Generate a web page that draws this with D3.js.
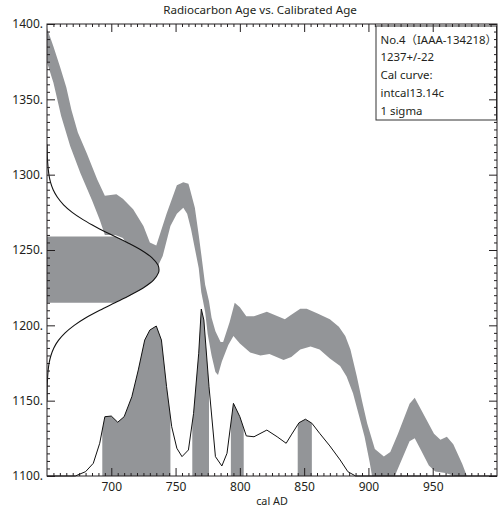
<!DOCTYPE html>
<html>
<head>
<meta charset="utf-8">
<script src="https://cdn.jsdelivr.net/npm/d3@7"></script>
<style>
  body { margin: 0; background: #fff; overflow: hidden; }
  svg { display: block; }
  text { font-family: "Noto Sans", "Noto Sans CJK JP", sans-serif; fill: #231f20; }
</style>
</head>
<body>
<div id="plot"></div>
<script>
// calibration curve band (intcal13), upper and lower edges
const upperYears = [648, 655, 660, 665, 669, 674, 681, 689, 695, 704, 709, 717, 725, 730, 735, 743, 751, 756, 760, 761, 765, 768, 770, 773, 776, 778, 781, 785, 787, 792, 796, 800, 805, 811, 821, 835, 840, 847, 852, 860, 870, 877, 882, 886, 891, 895, 899, 905, 912, 917, 923, 932, 936, 941, 951, 956, 961, 966, 973, 977, 980];
const upperAges  = [1402, 1385, 1372, 1358, 1343, 1328, 1314, 1297, 1286, 1287, 1284, 1277, 1266, 1255, 1253, 1274, 1293, 1295, 1294, 1291, 1278, 1260, 1247, 1227, 1216, 1205, 1196, 1189, 1189, 1202, 1215, 1212, 1206, 1206, 1209, 1204, 1207, 1211, 1211, 1208, 1204, 1199, 1193, 1184, 1166, 1150, 1135, 1118, 1113, 1116, 1128, 1148, 1152, 1144, 1128, 1124, 1126, 1121, 1108, 1099, 1095];
const lowerYears = [648, 655, 661, 668, 676, 685, 691, 695, 703, 709, 717, 725, 730, 735, 740, 746, 751, 756, 759, 762, 765, 768, 770, 773, 775, 778, 781, 783, 786, 791, 795, 800, 808, 816, 823, 834, 840, 847, 855, 862, 870, 878, 883, 888, 893, 897, 901, 903, 908, 914, 920, 932, 936, 941, 947, 952, 960, 967, 972, 980];
const lowerAges  = [1380, 1361, 1339, 1319, 1301, 1283, 1270, 1260, 1260, 1258, 1248, 1242, 1240, 1237, 1246, 1266, 1274, 1278, 1274, 1264, 1251, 1238, 1222, 1209, 1194, 1180, 1169, 1167, 1176, 1187, 1193, 1188, 1182, 1180, 1181, 1177, 1179, 1184, 1186, 1184, 1178, 1173, 1166, 1155, 1139, 1126, 1109, 1099, 1090, 1090, 1099, 1123, 1125, 1117, 1107, 1103, 1102, 1100, 1094, 1090];

// measured radiocarbon age distribution (1237 +/- 22), relative height
const c14Ages = [1320, 1310, 1300, 1295, 1290, 1285, 1280, 1275, 1270, 1265, 1259, 1255, 1250, 1245, 1240, 1237, 1235, 1230, 1225, 1220, 1215, 1210, 1205, 1200, 1195, 1190, 1185, 1180, 1175, 1170, 1160, 1150];
const c14Dens = [0.001, 0.004, 0.017, 0.031, 0.055, 0.093, 0.148, 0.225, 0.325, 0.445, 0.607, 0.716, 0.84, 0.936, 0.991, 1, 0.996, 0.951, 0.862, 0.742, 0.607, 0.471, 0.347, 0.243, 0.162, 0.102, 0.061, 0.035, 0.019, 0.01, 0.002, 0];
const c14Range = [1215, 1259];

// calibrated age probability, relative height
const probYears = [650, 672, 680, 686, 691, 695, 700, 705, 710, 716, 721, 726, 730, 735, 739, 743, 747, 751, 755, 760, 764, 768, 770, 772, 776, 781, 786, 790, 795, 800, 805, 811, 821, 829, 836, 840, 846, 851, 856, 862, 870, 878, 884, 890, 1000];
const probDens = [0, 0, 0.026, 0.076, 0.196, 0.355, 0.359, 0.322, 0.355, 0.475, 0.635, 0.814, 0.874, 0.898, 0.814, 0.535, 0.295, 0.166, 0.116, 0.156, 0.375, 0.735, 1.0, 0.934, 0.535, 0.116, 0.06, 0.136, 0.435, 0.355, 0.24, 0.235, 0.275, 0.235, 0.196, 0.246, 0.319, 0.34, 0.316, 0.256, 0.18, 0.096, 0.026, 0, 0];

// 1 sigma ranges
const sigmaStart = [693, 763, 793, 845];
const sigmaEnd = [746, 776, 803, 856];

const xTicks = [700, 750, 800, 850, 900, 950];
const yTicks = [1100, 1150, 1200, 1250, 1300, 1350, 1400];

const legendLines = ["No.4（IAAA-134218）", "1237+/-22", "Cal curve:", "intcal13.14c", "1 sigma"];

const w = 499;
const h = 510;
const margin = {top: 24, right: 2, bottom: 34, left: 47};
const innerWidth = w - margin.left - margin.right;
const innerHeight = h - margin.top - margin.bottom;
const grey = "#939598";

const svg = d3.select("div#plot")
  .append("svg")
    .attr("width", w)
    .attr("height", h);

const plot = svg.append("g")
  .attr("id", "plot")
  .attr("transform", `translate (${margin.left}, ${margin.top})`);

const xScale = d3.scaleLinear().domain([650, 1000]).range([0, innerWidth]);
const yScale = d3.scaleLinear().domain([1100, 1400]).range([innerHeight, 0]);
const densScale = d3.scaleLinear().domain([0, 1]).range([0, 112]);
const probScale = d3.scaleLinear().domain([0, 1]).range([innerHeight, innerHeight - 167]);

// clip paths
const defs = svg.append("defs");
defs.append("clipPath").attr("id", "area")
  .append("rect").attr("width", innerWidth).attr("height", innerHeight);

defs.append("clipPath").attr("id", "sigma")
  .selectAll("rect")
  .data(sigmaStart)
  .enter()
  .append("rect")
    .attr("x", (d, i) => xScale(d))
    .attr("width", (d, i) => xScale(sigmaEnd[i]) - xScale(d))
    .attr("y", 0)
    .attr("height", innerHeight);

defs.append("clipPath").attr("id", "c14band")
  .append("rect")
    .attr("x", 0)
    .attr("width", innerWidth)
    .attr("y", yScale(c14Range[1]))
    .attr("height", yScale(c14Range[0]) - yScale(c14Range[1]));

// calibration band
const band = upperYears.map((d, i) => [d, upperAges[i]])
  .concat(lowerYears.map((d, i) => [d, lowerAges[i]]).reverse());

plot.append("path")
  .attr("clip-path", "url(#area)")
  .attr("d", d3.line().x(d => xScale(d[0])).y(d => yScale(d[1]))(band) + "Z")
  .attr("fill", grey);

// radiocarbon age distribution
const c14 = c14Ages.map((d, i) => ({age: d, dens: c14Dens[i]}));

plot.append("path")
  .attr("clip-path", "url(#c14band)")
  .attr("d", d3.area()
    .curve(d3.curveCatmullRom)
    .y(d => yScale(d.age))
    .x0(0)
    .x1(d => densScale(d.dens))(c14))
  .attr("fill", grey);

plot.append("path")
  .attr("clip-path", "url(#area)")
  .attr("d", d3.line()
    .curve(d3.curveCatmullRom)
    .y(d => yScale(d.age))
    .x(d => densScale(d.dens))(c14))
  .attr("fill", "none")
  .attr("stroke", "#111")
  .attr("stroke-width", 1.1);

// calibrated probability
const prob = probYears.map((d, i) => ({year: d, dens: probDens[i]}));

plot.append("path")
  .attr("clip-path", "url(#sigma)")
  .attr("d", d3.area()
    .x(d => xScale(d.year))
    .y0(innerHeight)
    .y1(d => probScale(d.dens))(prob))
  .attr("fill", grey);

plot.append("path")
  .attr("d", d3.line()
    .x(d => xScale(d.year))
    .y(d => probScale(d.dens))(prob))
  .attr("fill", "none")
  .attr("stroke", "#111")
  .attr("stroke-width", 1);

// legend box
const legend = plot.append("g")
  .attr("transform", `translate (${innerWidth - 121}, 2)`);

legend.append("rect")
  .attr("width", 120.5)
  .attr("height", 94)
  .attr("fill", "#fff")
  .attr("stroke", "#333")
  .attr("stroke-width", 1);

legend.selectAll("text")
  .data(legendLines)
  .enter()
  .append("text")
    .attr("x", 4.5)
    .attr("y", (d, i) => 17.5 + i * 17.8)
    .attr("font-size", 11.4)
    .text(d => d);

// axes
const minorX = d3.range(655, 1000, 5).filter(v => v % 50 != 0);
const minorY = d3.range(1105, 1400, 5).filter(v => v % 50 != 0);

function styleAxis(g) {
  g.select(".domain").remove();
  g.attr("color", "#231f20").attr("font-family", null).attr("font-size", 12);
}

plot.append("g")
  .attr("transform", `translate (0, ${innerHeight})`)
  .call(d3.axisBottom(xScale).tickValues(xTicks).tickSize(-8).tickPadding(6))
  .call(styleAxis);

plot.append("g")
  .attr("transform", `translate (0, ${innerHeight})`)
  .call(d3.axisBottom(xScale).tickValues(minorX).tickSize(-3).tickFormat(""))
  .call(styleAxis);

plot.append("g")
  .call(d3.axisTop(xScale).tickValues(xTicks).tickSize(-8).tickFormat(""))
  .call(styleAxis);

plot.append("g")
  .call(d3.axisTop(xScale).tickValues(minorX).tickSize(-3).tickFormat(""))
  .call(styleAxis);

plot.append("g")
  .call(d3.axisLeft(yScale).tickValues(yTicks).tickSize(-8).tickPadding(4).tickFormat(d => d + "."))
  .call(styleAxis);

plot.append("g")
  .call(d3.axisLeft(yScale).tickValues(minorY).tickSize(-3).tickFormat(""))
  .call(styleAxis);

plot.append("g")
  .attr("transform", `translate (${innerWidth}, 0)`)
  .call(d3.axisRight(yScale).tickValues(yTicks).tickSize(-8).tickFormat(""))
  .call(styleAxis);

plot.append("g")
  .attr("transform", `translate (${innerWidth}, 0)`)
  .call(d3.axisRight(yScale).tickValues(minorY).tickSize(-3).tickFormat(""))
  .call(styleAxis);

// frame
plot.append("rect")
  .attr("width", innerWidth)
  .attr("height", innerHeight)
  .attr("fill", "none")
  .attr("stroke", "#231f20")
  .attr("stroke-width", 1);

// title and axis label
svg.append("text")
  .attr("x", 260)
  .attr("y", 14)
  .attr("text-anchor", "middle")
  .attr("font-size", 11.6)
  .text("Radiocarbon Age vs. Calibrated Age");

svg.append("text")
  .attr("x", margin.left + innerWidth / 2)
  .attr("y", 505)
  .attr("text-anchor", "middle")
  .attr("font-size", 10.8)
  .text("cal AD");
</script>
</body>
</html>
